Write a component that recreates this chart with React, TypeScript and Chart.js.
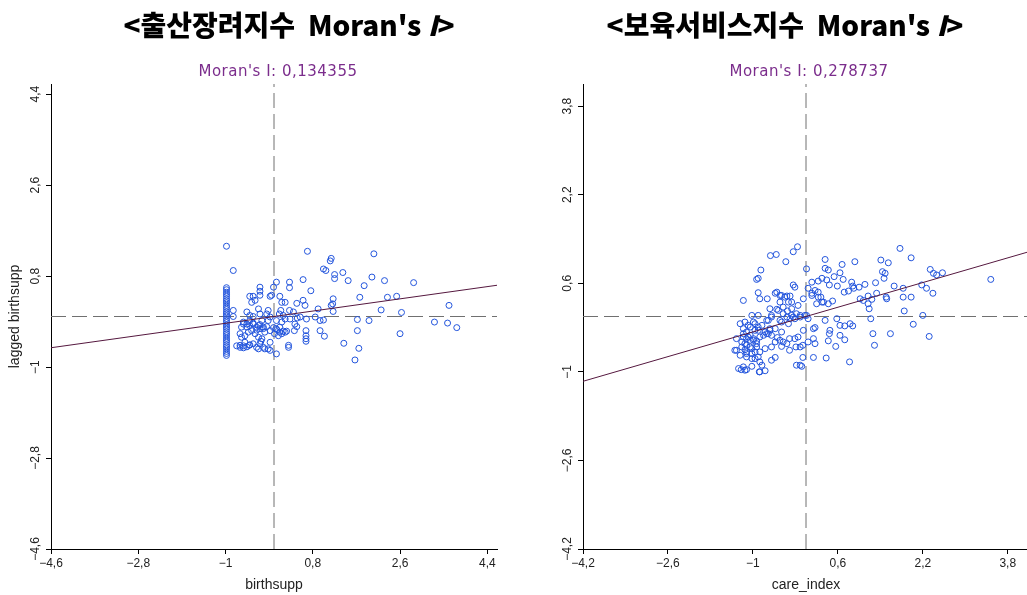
import React, { useEffect, useRef } from 'react';
import { Chart, registerables } from 'chart.js';
Chart.register(...registerables);

// ---------- DATA ----------
const birthsuppTicks = [-4.6, -2.8, -1, 0.8, 2.6, 4.4];
const birthsuppRange = [-4.6, 4.6];
const careTicks = [-4.2, -2.6, -1, 0.6, 2.2, 3.8];
const careRange = [-4.2, 4.2];
const moranBirth = 0.134355;
const moranCare = 0.278737;
const meanX = 0;
const meanY = 0;

// [value, lagged value]
const birthsuppPoints: [number, number][] = [
  [-0.98, 1.39], [-0.98, 0.57], [-0.98, 0.53], [-0.98, 0.48], [-0.98, 0.44], [-0.98, 0.40], [-0.98, 0.35],
  [-0.98, 0.31], [-0.98, 0.27], [-0.98, 0.22], [-0.98, 0.18], [-0.98, 0.14], [-0.98, 0.09], [-0.98, 0.05],
  [-0.98, 0.01], [-0.98, -0.04], [-0.98, -0.08], [-0.98, -0.12], [-0.98, -0.17], [-0.98, -0.21], [-0.98, -0.25],
  [-0.98, -0.30], [-0.98, -0.34], [-0.98, -0.38], [-0.98, -0.43], [-0.98, -0.47], [-0.98, -0.51], [-0.98, -0.56],
  [-0.98, -0.60], [-0.98, -0.64], [-0.98, -0.69], [-0.98, -0.73], [-0.98, -0.77],
  [-0.84, 0.91], [0.69, 1.29], [2.06, 1.24], [1.18, 1.15], [1.16, 1.10], [1.02, 0.94], [1.07, 0.91],
  [1.42, 0.87], [1.25, 0.83], [1.25, 0.75], [2.02, 0.78], [1.53, 0.71], [2.28, 0.71], [2.88, 0.67],
  [0.60, 0.73], [0.05, 0.68], [0.32, 0.68], [0.32, 0.57], [1.86, 0.61], [0.76, 0.51], [-0.29, 0.58],
  [-0.29, 0.50], [-0.29, 0.42], [-0.01, 0.58], [-0.05, 0.42], [-0.08, 0.40], [-0.50, 0.40], [-0.43, 0.40],
  [-0.39, 0.32], [-0.46, 0.28], [0.12, 0.40], [0.16, 0.28], [0.23, 0.28], [0.60, 0.32], [0.64, 0.22],
  [0.47, 0.26], [1.22, 0.35], [1.21, 0.25], [1.18, 0.22], [1.22, 0.10], [1.77, 0.38], [2.34, 0.38],
  [2.53, 0.40], [0.91, 0.15], [2.21, 0.13], [2.63, 0.08], [3.61, 0.22], [3.31, -0.11], [3.58, -0.13],
  [3.77, -0.22], [1.72, -0.06], [1.96, -0.08], [1.72, -0.28], [2.60, -0.34], [1.44, -0.53], [1.75, -0.63],
  [1.67, -0.86], [0.95, -0.28], [1.04, -0.39], [0.66, -0.28], [0.66, -0.38], [0.66, -0.44], [0.66, -0.49],
  [0.85, -0.01], [0.95, -0.08], [1.02, -0.07], [0.48, -0.03], [0.54, -0.01], [0.67, -0.05], [0.32, 0.12],
  [0.40, 0.09], [0.33, -0.05], [0.43, -0.15], [0.47, -0.20], [0.30, -0.57], [0.30, -0.61], [0.05, -0.74],
  [0.19, 0.02], [0.23, -0.05], [0.16, -0.11], [0.12, -0.21], [0.23, -0.31], [0.16, -0.34], [0.05, -0.08],
  [0.04, -0.24], [0.01, -0.34], [0.09, -0.38], [-0.12, 0.12], [-0.15, 0.05], [-0.08, -0.01], [-0.12, -0.08],
  [-0.32, 0.15], [-0.29, 0.05], [-0.25, -0.08], [-0.32, -0.18], [-0.29, -0.24], [-0.22, -0.21], [-0.19, -0.31],
  [-0.56, 0.09], [-0.50, 0.02], [-0.43, 0.00], [-0.50, -0.08], [-0.43, -0.15], [-0.36, -0.21], [-0.56, -0.21],
  [-0.46, -0.28], [-0.39, -0.34], [-0.32, -0.41], [-0.25, -0.44], [-0.29, -0.54], [-0.32, -0.64], [-0.22, -0.61],
  [-0.12, -0.64], [-0.08, -0.51], [-0.84, 0.12], [-0.84, 0.00], [-0.77, -0.58], [-0.70, -0.61], [-0.63, -0.58],
  [-0.56, -0.60], [-0.50, -0.56], [-0.70, -0.34], [-0.67, -0.41], [-0.60, -0.38], [-0.67, -0.21], [-0.63, -0.15],
  [0.42, -0.28], [0.14, 0.12], [0.11, 0.05], [-0.63, -0.11], [-0.56, -0.15], [-0.50, -0.18], [-0.43, -0.13],
  [-0.36, -0.27], [-0.29, -0.16], [-0.22, -0.24], [-0.15, -0.20], [-0.08, -0.28], [-0.01, -0.22], [0.06, -0.26],
  [0.12, -0.31], [0.19, -0.29], [0.26, -0.29], [-0.53, -0.31], [-0.60, -0.51], [-0.51, -0.57], [-0.43, -0.54],
  [-0.36, -0.61], [-0.27, -0.49], [-0.19, -0.64], [-0.08, -0.67], [-0.70, -0.57], [-0.63, -0.62],
];

const carePoints: [number, number][] = [
  [-0.16, 1.26], [-0.24, 1.17], [-0.67, 1.10], [-0.56, 1.12], [-0.38, 0.99], [-0.85, 0.84], [-0.90, 0.69],
  [-0.93, 0.67], [0.01, 0.86], [0.36, 1.03], [0.36, 0.87], [0.42, 0.84], [0.68, 0.94], [0.92, 0.99],
  [1.77, 1.23], [1.98, 1.06], [1.41, 1.02], [1.55, 0.97], [1.44, 0.81], [1.49, 0.78], [1.47, 0.69],
  [2.34, 0.85], [2.40, 0.78], [2.46, 0.75], [2.57, 0.79], [3.48, 0.67], [2.18, 0.57], [2.27, 0.51],
  [2.39, 0.42], [1.83, 0.51], [1.83, 0.35], [1.98, 0.35], [1.66, 0.55], [1.51, 0.35], [1.52, 0.32],
  [1.33, 0.42], [1.17, 0.37], [1.24, 0.31], [1.02, 0.32], [1.08, 0.29], [1.31, 0.61], [1.11, 0.58],
  [1.00, 0.53], [0.88, 0.55], [0.86, 0.62], [0.70, 0.67], [0.64, 0.79], [0.53, 0.72], [0.59, 0.55],
  [0.72, 0.44], [0.80, 0.46], [0.90, 0.51], [0.11, 0.62], [0.23, 0.64], [0.30, 0.69], [0.39, 0.66],
  [0.44, 0.57], [0.17, 0.47], [0.23, 0.44], [0.11, 0.38], [0.04, 0.51], [0.28, 0.35], [0.33, 0.26],
  [0.20, 0.23], [0.42, 0.23], [0.50, 0.28], [-0.24, 0.57], [-0.21, 0.53], [-0.05, 0.32], [-0.15, 0.20],
  [-0.27, 0.14], [-0.35, 0.10], [-0.55, 0.44], [-0.46, 0.38], [-0.36, 0.37], [-0.30, 0.37], [-0.49, 0.26],
  [-0.33, 0.26], [-0.43, 0.17], [-0.55, 0.13], [-0.68, 0.14], [-0.90, 0.43], [-0.87, 0.32], [-0.73, 0.32],
  [-1.18, 0.29], [-1.02, 0.02], [-0.90, 0.02], [-0.74, -0.07], [-0.65, -0.01], [-0.49, -0.07], [-0.36, -0.01],
  [-0.24, -0.01], [-0.11, 0.02], [0.01, 0.02], [0.04, -0.04], [-0.18, 0.05], [-0.30, -0.04], [0.36, -0.07],
  [0.58, -0.04], [0.64, -0.16], [0.73, -0.17], [0.83, -0.13], [0.88, -0.17], [1.22, -0.04], [1.19, 0.14],
  [1.17, 0.23], [1.85, 0.10], [2.20, 0.02], [2.02, -0.14], [2.32, -0.36], [1.59, -0.31], [1.26, -0.31],
  [1.29, -0.52], [0.14, -0.22], [0.17, -0.20], [0.45, -0.25], [0.44, -0.31], [0.42, -0.44], [0.64, -0.34],
  [0.73, -0.42], [0.56, -0.54], [0.38, -0.75], [0.14, -0.74], [-0.06, -0.74], [-0.11, -0.88], [-0.08, -0.90],
  [0.82, -0.82], [0.14, -0.40], [0.17, -0.49], [0.04, -0.46], [-0.06, -0.52], [-0.05, -0.25], [-0.15, -0.37],
  [-0.21, -0.40], [-0.31, -0.40], [-0.19, -0.55], [-0.31, -0.61], [-0.46, -0.54], [-0.54, -0.38], [-0.46, -0.28],
  [-0.58, -0.22], [-0.68, -0.22], [-0.74, -0.31], [-0.65, -0.34], [-0.58, -0.46], [-0.65, -0.55], [-0.58, -0.74],
  [-0.65, -0.79], [-1.24, -0.13], [-1.18, -0.22], [-1.12, -0.28], [-1.05, -0.34], [-1.18, -0.37], [-1.12, -0.40],
  [-1.05, -0.43], [-0.99, -0.40], [-0.93, -0.44], [-0.87, -0.37], [-0.80, -0.34], [-0.96, -0.25], [-0.90, -0.19],
  [-0.83, -0.16], [-0.99, -0.10], [-1.09, -0.16], [-1.31, -0.61], [-1.21, -0.55], [-1.12, -0.52], [-1.02, -0.58],
  [-0.93, -0.55], [-0.87, -0.64], [-0.77, -0.58], [-1.24, -0.70], [-1.12, -0.73], [-1.02, -0.67], [-0.96, -0.76],
  [-0.87, -0.82], [-0.83, -0.88], [-1.18, -0.91], [-1.27, -0.94], [-1.12, -0.96], [-1.02, -0.90], [-0.88, -1.00],
  [-0.77, -0.98], [-1.12, -0.64], [-1.21, -0.46], [-1.31, -0.40], [-1.15, -0.60], [-1.15, -0.10], [-1.05, -0.19],
  [-0.96, -0.13], [-0.90, -0.25], [-1.18, -0.31], [-1.09, -0.37], [-0.99, -0.43], [-0.93, -0.49], [-1.15, -0.49],
  [-1.05, -0.55], [-0.96, -0.64], [-1.12, -0.67], [-1.02, -0.76], [-0.90, -0.73], [-1.22, -0.96], [-1.15, -0.97],
  [-0.87, -1.00], [-1.34, -0.61], [-0.58, 0.42], [-0.49, 0.38], [-0.40, 0.35], [-0.27, 0.26], [0.11, 0.42],
  [0.23, 0.35], [0.30, 0.26], [-0.52, 0.11], [-0.43, 0.05], [-0.27, 0.02], [-0.21, -0.04], [-0.11, -0.01],
  [-0.02, 0.02], [-0.46, -0.10], [-0.33, -0.13], [-0.65, 0.02], [-0.71, -0.07], [-0.77, -0.28], [-0.71, -0.31],
  [-0.68, -0.25], [-0.49, -0.43], [-0.43, -0.46], [-0.36, -0.49], [-0.11, -0.55], [-0.18, -0.88],
];

// ---------- STYLE ----------
const TICK_FONT = '12px "Liberation Sans", Arial, sans-serif';
const fmt = (v: number) => String(v).replace('.', ',').replace('-', '\u2212');

const yTickLabelPlugin = {
  id: 'yTickLabels',
  afterDraw(chart: any) {
    const s = chart.scales.y;
    const ctx = chart.ctx;
    ctx.save();
    ctx.font = TICK_FONT;
    ctx.fillStyle = '#222';
    ctx.textAlign = 'center';
    ctx.textBaseline = 'middle';
    s.ticks.forEach((t: any) => {
      const y = s.getPixelForValue(t.value);
      ctx.save();
      ctx.translate(s.right - 15, y);
      ctx.rotate(-Math.PI / 2);
      ctx.fillText(fmt(t.value), 0, 0);
      ctx.restore();
    });
    ctx.restore();
  },
};

function makeConfig(p: {
  points: [number, number][];
  ticks: number[];
  range: number[];
  moran: number;
  xTitle: string;
  yTitle: string;
  yWidth: number;
  padRight: number;
}) {
  const [lo, hi] = p.range;
  return {
    type: 'scatter' as const,
    data: {
      datasets: [
        {
          data: [
            { x: lo, y: p.moran * lo },
            { x: hi, y: p.moran * hi },
          ],
          showLine: true,
          borderColor: '#55183f',
          borderWidth: 1,
          pointRadius: 0,
        },
        {
          data: p.points.map(([x, y]) => ({ x, y })),
          pointRadius: 3,
          pointBorderWidth: 1,
          pointBorderColor: '#2254dc',
          pointBackgroundColor: 'rgba(0,0,0,0)',
        },
        {
          data: [
            { x: meanX, y: lo },
            { x: meanX, y: hi },
          ],
          showLine: true,
          borderColor: '#707070',
          borderWidth: 1,
          borderDash: [15, 6],
          pointRadius: 0,
        },
        {
          data: [
            { x: lo, y: meanY },
            { x: hi, y: meanY },
          ],
          showLine: true,
          borderColor: '#707070',
          borderWidth: 1,
          borderDash: [15, 6],
          pointRadius: 0,
        },
      ],
    },
    options: {
      animation: false,
      responsive: false,
      devicePixelRatio: 1,
      layout: { padding: { top: 84, right: p.padRight, left: 0, bottom: 0 } },
      plugins: { legend: { display: false }, tooltip: { enabled: false }, title: { display: false } },
      scales: {
        x: {
          type: 'linear',
          min: lo,
          max: hi,
          afterBuildTicks: (s: any) => {
            s.ticks = p.ticks.map((v) => ({ value: v }));
          },
          afterFit: (s: any) => {
            s.height = 46;
          },
          grid: { drawOnChartArea: false, drawTicks: true, tickLength: 5, color: '#000' },
          border: { color: '#000', width: 1 },
          ticks: {
            autoSkip: false,
            maxRotation: 0,
            minRotation: 0,
            padding: 2,
            color: '#222',
            font: { family: '"Liberation Sans", Arial, sans-serif', size: 12 },
            callback: (v: number) => fmt(v),
          },
          title: {
            display: true,
            text: p.xTitle,
            color: '#222',
            font: { family: '"Liberation Sans", Arial, sans-serif', size: 14 },
            padding: { top: 0, bottom: 1 },
          },
        },
        y: {
          type: 'linear',
          min: lo,
          max: hi,
          afterBuildTicks: (s: any) => {
            s.ticks = p.ticks.map((v) => ({ value: v }));
          },
          afterFit: (s: any) => {
            s.width = p.yWidth;
          },
          grid: { drawOnChartArea: false, drawTicks: true, tickLength: 5, color: '#000' },
          border: { color: '#000', width: 1 },
          ticks: { display: false },
          title: {
            display: p.yTitle !== '',
            text: p.yTitle,
            color: '#222',
            font: { family: '"Liberation Sans", Arial, sans-serif', size: 14 },
            padding: { top: 7, bottom: 0 },
          },
        },
      },
    },
    plugins: [yTickLabelPlugin],
  };
}

function Panel(props: { cfg: any; left: number; width: number }) {
  const ref = useRef<HTMLCanvasElement>(null);
  useEffect(() => {
    const chart = new Chart(ref.current as HTMLCanvasElement, props.cfg);
    return () => chart.destroy();
  }, []);
  return (
    <canvas
      ref={ref}
      width={props.width}
      height={595}
      style={{ position: 'absolute', left: props.left, top: 0, width: props.width, height: 595 }}
    />
  );
}

const headStyle: React.CSSProperties = {
  position: 'absolute',
  top: 6,
  textAlign: 'center',
  fontFamily: '"Noto Sans CJK KR", sans-serif',
  fontWeight: 900,
  fontSize: 28,
  lineHeight: '36px',
  color: '#000',
  whiteSpace: 'pre',
};
const subStyle: React.CSSProperties = {
  position: 'absolute',
  top: 61,
  textAlign: 'center',
  fontFamily: '"DejaVu Sans", sans-serif',
  fontSize: 15,
  lineHeight: '20px',
  letterSpacing: '0.5px',
  color: '#7b2d8c',
  whiteSpace: 'pre',
};

export default function App() {
  const leftCfg = makeConfig({
    points: birthsuppPoints,
    ticks: birthsuppTicks,
    range: birthsuppRange,
    moran: moranBirth,
    xTitle: 'birthsupp',
    yTitle: 'lagged birthsupp',
    yWidth: 51,
    padRight: 16,
  });
  const rightCfg = makeConfig({
    points: carePoints,
    ticks: careTicks,
    range: careRange,
    moran: moranCare,
    xTitle: 'care_index',
    yTitle: '',
    yWidth: 70,
    padRight: 14,
  });
  return (
    <div
      style={{
        position: 'fixed',
        left: 0,
        top: 0,
        width: 1027,
        height: 595,
        overflow: 'hidden',
        background: '#fff',
      }}
    >
      <Panel cfg={leftCfg} left={0} width={513} />
      <Panel cfg={rightCfg} left={513} width={530} />
      <div style={{ ...headStyle, left: 0, width: 578 }}>
        {'<출산장려지수  Moran\'s '}
        <i>I</i>
        {'>'}
      </div>
      <div style={{ ...headStyle, left: 485, width: 600 }}>
        {'<보육서비스지수  Moran\'s '}
        <i>I</i>
        {'>'}
      </div>
      <div style={{ ...subStyle, left: 78, width: 400 }}>{'Moran\'s I: ' + fmt(moranBirth)}</div>
      <div style={{ ...subStyle, left: 609, width: 400 }}>{'Moran\'s I: ' + fmt(moranCare)}</div>
    </div>
  );
}
